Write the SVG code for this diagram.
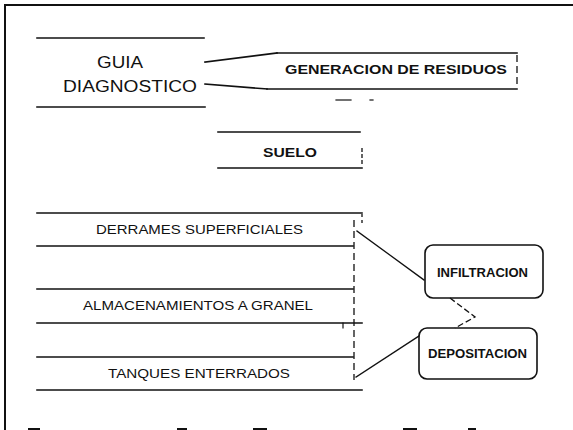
<svg xmlns="http://www.w3.org/2000/svg" width="573" height="430" viewBox="0 0 573 430">
<style>
  .ln { stroke: #111; stroke-width: 1.6; fill: none; stroke-linecap: square; }
  .dsh { stroke: #111; stroke-width: 1.3; fill: none; stroke-dasharray: 7 4; }
  .box { stroke: #111; stroke-width: 1.6; fill: #fff; }
  .reg { font-family: "Liberation Sans", Arial, sans-serif; fill: #111; }
  .bld { font-family: "Liberation Sans", Arial, sans-serif; font-weight: bold; fill: #111; }
</style>
<rect width="573" height="430" fill="#fff"/>
<g id="frame">
  <line class="ln" x1="5" y1="5" x2="573" y2="5" style="stroke-width:2"/>
  <line class="ln" x1="5" y1="5" x2="5" y2="430" style="stroke-width:2"/>
  <g stroke="#111" stroke-width="2">
    <line x1="28" y1="429" x2="40" y2="429"/>
    <line x1="177" y1="429" x2="187" y2="429"/>
    <line x1="253" y1="429" x2="267" y2="429"/>
    <line x1="403" y1="429" x2="417" y2="429"/>
    <line x1="468" y1="429" x2="476" y2="429"/>
  </g>
</g>
<g id="guia">
  <line class="ln" x1="37" y1="38" x2="204" y2="38"/>
  <line class="ln" x1="37" y1="107" x2="205" y2="107"/>
  <text class="reg" x="97" y="68" font-size="16" textLength="46" lengthAdjust="spacingAndGlyphs">GUIA</text>
  <text class="reg" x="63" y="92" font-size="16" textLength="134" lengthAdjust="spacingAndGlyphs">DIAGNOSTICO</text>
</g>
<g id="generacion">
  <line class="ln" x1="277" y1="53" x2="517" y2="53"/>
  <line class="ln" x1="267" y1="89" x2="517" y2="89"/>
  <line class="dsh" x1="517" y1="55" x2="517" y2="88"/>
  <text class="bld" x="285" y="74" font-size="13" textLength="222" lengthAdjust="spacingAndGlyphs">GENERACION DE RESIDUOS</text>
  <line class="ln" x1="336" y1="100" x2="351" y2="100" style="stroke-width:1.2"/>
  <line class="ln" x1="370" y1="100" x2="373" y2="100" style="stroke-width:1.2"/>
</g>
<g id="suelo">
  <line class="ln" x1="218" y1="132" x2="360" y2="132"/>
  <line class="ln" x1="218" y1="168" x2="362" y2="168"/>
  <line class="dsh" x1="362" y1="148" x2="362" y2="164" style="stroke-dasharray:4 2"/>
  <text class="bld" x="263" y="157" font-size="13" textLength="54" lengthAdjust="spacingAndGlyphs">SUELO</text>
</g>
<g id="derrames">
  <line class="ln" x1="37" y1="213" x2="362" y2="213"/>
  <line class="ln" x1="37" y1="246" x2="353" y2="246"/>
  <text class="reg" x="96" y="234" font-size="13.5" textLength="207" lengthAdjust="spacingAndGlyphs">DERRAMES SUPERFICIALES</text>
</g>
<g id="almacenamientos">
  <line class="ln" x1="37" y1="289" x2="353" y2="289"/>
  <line class="ln" x1="37" y1="323" x2="362" y2="323"/>
  <line class="ln" x1="343" y1="323" x2="343" y2="328" style="stroke-width:1.2"/>
  <text class="reg" x="83" y="310" font-size="13.5" textLength="230" lengthAdjust="spacingAndGlyphs">ALMACENAMIENTOS A GRANEL</text>
</g>
<g id="tanques">
  <line class="ln" x1="37" y1="357" x2="353" y2="357"/>
  <line class="ln" x1="37" y1="390" x2="362" y2="390"/>
  <text class="reg" x="108" y="378" font-size="13.5" textLength="182" lengthAdjust="spacingAndGlyphs">TANQUES ENTERRADOS</text>
</g>
<g id="column-edge">
  <line class="dsh" x1="354" y1="220" x2="354" y2="380"/>
  <line class="dsh" x1="362" y1="214" x2="362" y2="226" style="stroke-dasharray:3 3"/>
</g>
<g id="infiltracion">
  <rect class="box" x="425" y="245" width="118" height="53" rx="8"/>
  <text class="bld" x="437" y="277" font-size="12" textLength="91" lengthAdjust="spacingAndGlyphs">INFILTRACION</text>
</g>
<g id="depositacion">
  <rect class="box" x="419" y="328" width="118" height="51" rx="8"/>
  <text class="bld" x="428" y="358" font-size="12.5" textLength="99" lengthAdjust="spacingAndGlyphs">DEPOSITACION</text>
</g>
<g id="connectors">
  <line class="ln" x1="205" y1="62" x2="277" y2="53"/>
  <line class="ln" x1="205" y1="84" x2="267" y2="89"/>
  <line class="ln" x1="357" y1="231" x2="424" y2="280" style="stroke-width:1.3"/>
  <line class="ln" x1="356" y1="377" x2="419" y2="336" style="stroke-width:1.3"/>
  <polyline class="dsh" points="450,298 475,317 455,328" style="stroke-dasharray:6 3"/>
</g>
</svg>
